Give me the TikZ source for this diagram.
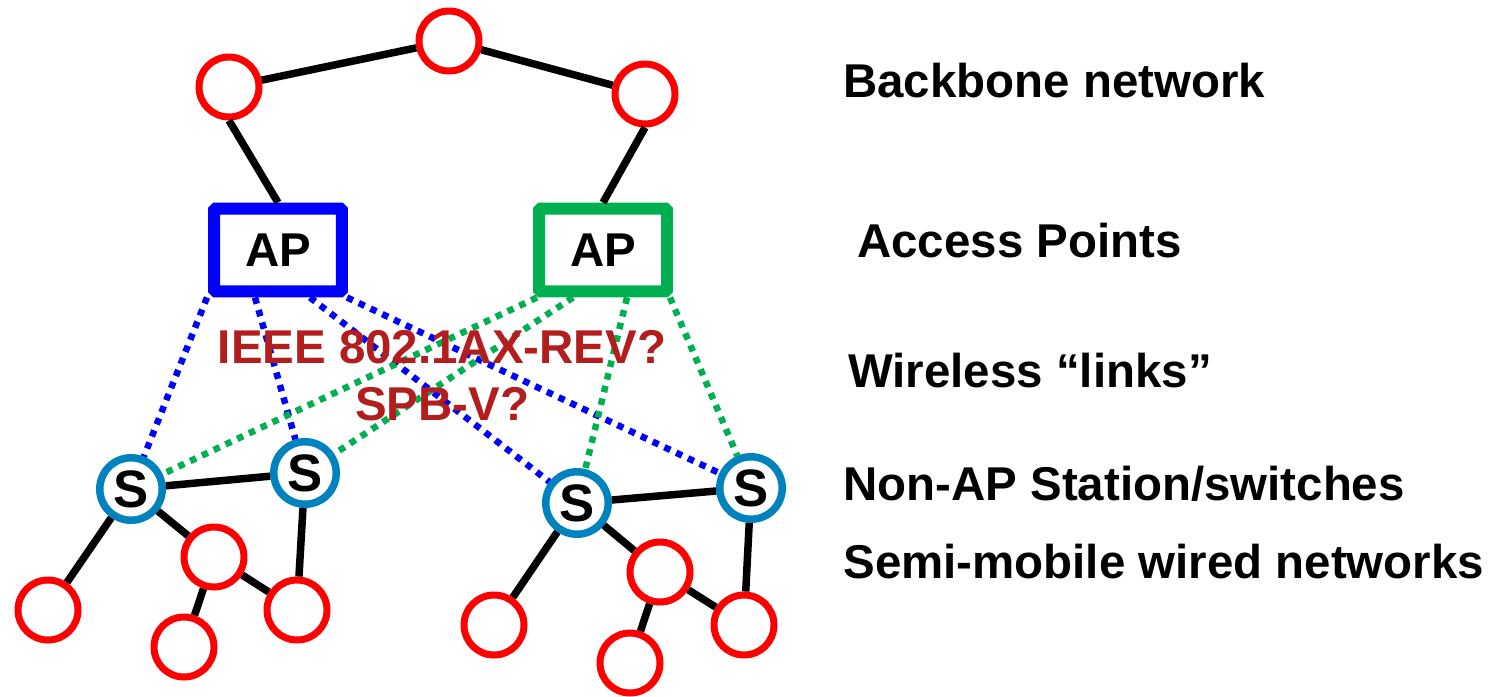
\documentclass[tikz,border=0pt]{standalone}
\usepackage{fontspec}
\setmainfont{Liberation Sans}
\definecolor{apgreen}{RGB}{0,176,80}
\definecolor{stblue}{RGB}{0,130,190}
\definecolor{qred}{RGB}{178,30,30}
\newcommand{\bigbf}{\bfseries\fontsize{27}{32}\selectfont}

\begin{document}
\begin{tikzpicture}[x=0.02cm,y=-0.02cm,
  net/.style={draw=red,circle,line width=0.14cm,minimum size=1.2cm,inner sep=0pt,fill=white},
  sta/.style={draw=stblue,circle,line width=0.15cm,minimum size=1.25cm,inner sep=0pt,fill=white,font=\bfseries\fontsize{30}{32}\selectfont},
  ap/.style={rectangle,rounded corners=1pt,line width=0.24cm,minimum width=2.56cm,minimum height=1.66cm,fill=white,font=\bigbf},
  wire/.style={line width=0.15cm},
  air/.style={line width=0.13cm,dash pattern=on 0.13cm off 0.13cm},
  lbl/.style={anchor=base west,inner sep=0pt,font=\bigbf}]
  \useasboundingbox (0,0) rectangle (1506,696);
  % backbone
  \node[net] (Bone) at (229,87) {};
  \node[net] (Btwo) at (449,41) {};
  \node[net] (Bthree) at (645,94) {};
  % access points
  \node[ap,draw=blue] (APblue) at (278,250) {AP};
  \node[ap,draw=apgreen] (APgreen) at (603,250) {AP};
  % stations
  \node[sta] (Sone) at (131,489) {S};
  \node[sta] (Stwo) at (305,473) {S};
  \node[sta] (Sthree) at (577,503) {S};
  \node[sta] (Sfour) at (751,488) {S};
  % wired networks
  \node[net] (Lone) at (48,610) {};
  \node[net] (Ltwo) at (214,557) {};
  \node[net] (Lthree) at (184,647) {};
  \node[net] (Lfour) at (297,610) {};
  \node[net] (Rone) at (494,625) {};
  \node[net] (Rtwo) at (660,572) {};
  \node[net] (Rthree) at (630,663) {};
  \node[net] (Rfour) at (744,625) {};
  \draw[wire] (Bone) -- (Btwo) -- (Bthree);
  \draw[wire] (Bone.south) -- (APblue.north);
  \draw[wire] (Bthree.south) -- (APgreen.north);
  \draw[wire] (Sone) -- (Stwo);
  \draw[wire] (Sone) -- (Lone);
  \draw[wire] (Sone) -- (Ltwo);
  \draw[wire] (Ltwo) -- (Lthree);
  \draw[wire] (Ltwo) -- (Lfour);
  \draw[wire] (Stwo) -- (Lfour);
  \draw[wire] (Sthree) -- (Sfour);
  \draw[wire] (Sthree) -- (Rone);
  \draw[wire] (Sthree) -- (Rtwo);
  \draw[wire] (Rtwo) -- (Rthree);
  \draw[wire] (Rtwo) -- (Rfour);
  \draw[wire] (Sfour) -- (Rfour);
  % wireless links
  \draw[air,blue] ([xshift=-1.42cm]APblue.south) -- (Sone);
  \draw[air,blue] ([xshift=-0.46cm]APblue.south) -- (Stwo);
  \draw[air,blue] ([xshift=0.64cm]APblue.south) -- (Sthree);
  \draw[air,blue] ([xshift=1.38cm]APblue.south) -- (Sfour);
  \draw[air,apgreen] ([xshift=-1.32cm]APgreen.south) -- (Sone);
  \draw[air,apgreen] ([xshift=-0.6cm]APgreen.south) -- (Stwo);
  \draw[air,apgreen] ([xshift=0.48cm]APgreen.south) -- (Sthree);
  \draw[air,apgreen] ([xshift=1.34cm]APgreen.south) -- (Sfour);
  % question
  \node[anchor=base,inner sep=0pt,font=\bigbf,text=qred] (ieee) at (442,363) {IEEE 802.1AX-REV?};
  \node[anchor=base,inner sep=0pt,font=\bigbf,text=qred] (spbv) at (442,420) {SPB-V?};
  % legend
  \node[lbl] (lbackbone) at (843,97) {Backbone network};
  \node[lbl] (laccess) at (857,257) {Access Points};
  \node[lbl] (lwireless) at (848,387) {Wireless “links”};
  \node[lbl] (lstation) at (843,500) {Non-AP Station/switches};
  \node[lbl] (lwired) at (843,578) {Semi-mobile wired networks};
\end{tikzpicture}
\end{document}
